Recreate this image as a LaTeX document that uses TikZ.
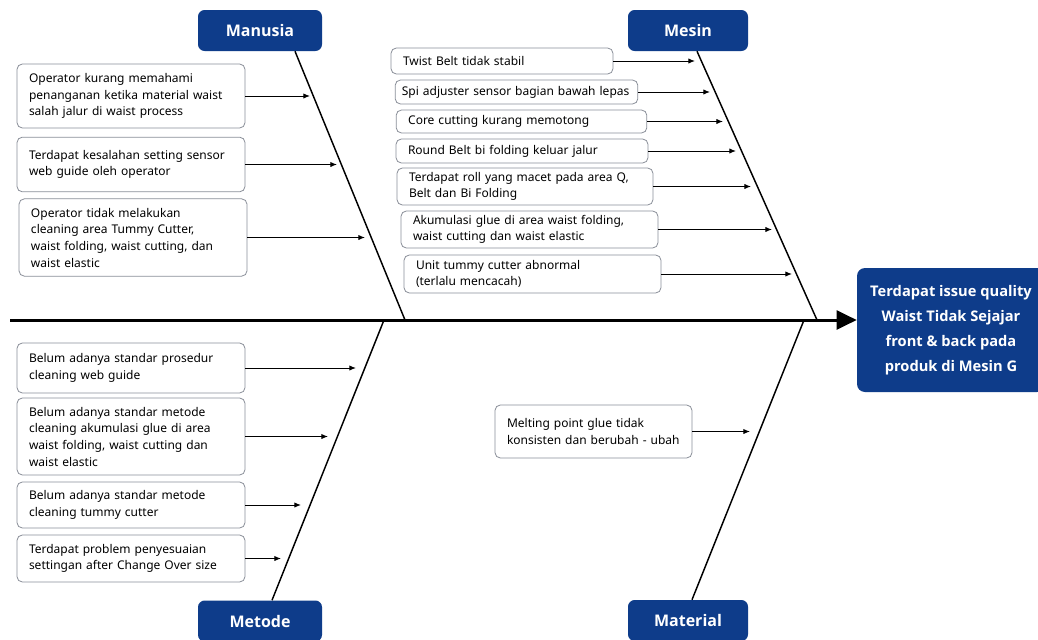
\documentclass[tikz,border=0pt]{standalone}
\usepackage{fontspec}
\setmainfont{Noto Sans}
\newfontfamily\headfont{Open Sans}
\usetikzlibrary{arrows.meta,calc}
\definecolor{fishblue}{HTML}{0E3C8A}
\definecolor{boxline}{HTML}{8A8F99}
\tikzset{
	category/.style={fill=fishblue, text=white, rounded corners=5pt, minimum width=93pt, minimum height=30.75pt, inner sep=0pt, font=\headfont\bfseries\fontsize{12}{14}\selectfont},
	causebox/.style={draw=boxline, line width=0.6pt, rounded corners=4pt, fill=white, align=left, inner xsep=9pt, inner ysep=2pt, text width=#1, font=\fontsize{9}{12.5}\selectfont},
	bone/.style={line width=1.1pt},
	spine/.style={line width=2.25pt, -{Triangle[length=15pt,width=14pt]}},
	cause/.style={line width=0.7pt, -{Latex[length=5pt,width=4pt]}},
}
\begin{document}
\begin{tikzpicture}[x=0.75pt, y=-0.75pt]
		\useasboundingbox[fill=white] (0,0) rectangle (1038,639);
		
		% effect and spine
		\node[category, minimum width=141pt, minimum height=93pt, rounded corners=6pt, align=center, font=\headfont\bfseries\fontsize{11}{18.75}\selectfont] (effect) at (951,330) {Terdapat issue quality\\Waist Tidak Sejajar\\front \& back pada\\produk di Mesin G};
		\coordinate (tail) at (10,320);
		\draw[spine] (tail) -- (tail -| effect.west);
		
		% categories
		\node[category] (manusia) at (260,30.5) {Manusia};
		\node[category, minimum width=90pt] (mesin) at (688,30.5) {Mesin};
		\node[category] (metode) at (260,621) {Metode};
		\node[category, minimum width=90pt] (material) at (688,620.5) {Material};
		
		\coordinate (jmanusia) at (405,320);
		\coordinate (jmesin) at (817,320);
		\coordinate (jmetode) at (384,320);
		\coordinate (jmaterial) at (804,320);
		\draw[bone] ($(manusia.south)+(35,0)$) -- (jmanusia);
		\draw[bone] ($(mesin.south)+(9,0)$) -- (jmesin);
		\draw[bone] ($(metode.north)+(12,0)$) -- (jmetode);
		\draw[bone] ($(material.north)+(4,0)$) -- (jmaterial);
		
		% Manusia
		\node[causebox=153pt, minimum height=48pt] (ma1) at (131,96) {Operator kurang memahami\\penanganan ketika material waist\\salah jalur di waist process};
		\node[causebox=153pt, minimum height=41pt] (ma2) at (131,164.5) {Terdapat kesalahan setting sensor\\web guide oleh operator};
		\node[causebox=153pt, minimum height=58pt] (ma3) at (133,237.5) {Operator tidak melakukan\\cleaning area Tummy Cutter,\\waist folding, waist cutting, dan\\waist elastic};
		\coordinate (ma1t) at (310,96);
		\coordinate (ma2t) at (337,164.5);
		\coordinate (ma3t) at (365,237.5);
		\draw[cause] (ma1) -- (ma1t);
		\draw[cause] (ma2) -- (ma2t);
		\draw[cause] (ma3) -- (ma3t);
		
		% Mesin
		\node[causebox=148.5pt, minimum height=19.5pt] (me1) at (502,61) {Twist Belt tidak stabil};
		\node[causebox=172pt, inner xsep=5pt, minimum height=18pt] (me2) at (516.5,92) {Spi adjuster sensor bagian bawah lepas};
		\node[causebox=170pt, minimum height=17.25pt] (me3) at (521.5,121.5) {Core cutting kurang memotong};
		\node[causebox=171pt, minimum height=18pt] (me4) at (522,151) {Round Belt bi folding keluar jalur};
		\node[causebox=174pt, minimum height=27.75pt, font=\fontsize{9}{11.5}\selectfont] (me5) at (525,186.5) {Terdapat roll yang macet pada area Q,\\Belt dan Bi Folding};
		\node[causebox=174.75pt, minimum height=27.75pt, font=\fontsize{9}{11.5}\selectfont] (me6) at (529.5,229.5) {Akumulasi glue di area waist folding,\\waist cutting dan waist elastic};
		\node[causebox=174.75pt, minimum height=28.5pt, font=\fontsize{9}{11.5}\selectfont] (me7) at (532.5,274) {Unit tummy cutter abnormal\\(terlalu mencacah)};
		\coordinate (me1t) at (695,61);
		\coordinate (me2t) at (710,92);
		\coordinate (me3t) at (723,121.5);
		\coordinate (me4t) at (736,151);
		\coordinate (me5t) at (751,186.5);
		\coordinate (me6t) at (772,229.5);
		\coordinate (me7t) at (792,274);
		\draw[cause] (me1) -- (me1t);
		\draw[cause] (me2) -- (me2t);
		\draw[cause] (me3) -- (me3t);
		\draw[cause] (me4) -- (me4t);
		\draw[cause] (me5) -- (me5t);
		\draw[cause] (me6) -- (me6t);
		\draw[cause] (me7) -- (me7t);
		
		% Metode
		\node[causebox=153pt, minimum height=37.5pt] (mt1) at (131,368) {Belum adanya standar prosedur\\cleaning web guide};
		\node[causebox=153pt, minimum height=57.75pt] (mt2) at (131,436.5) {Belum adanya standar metode\\cleaning akumulasi glue di area\\waist folding, waist cutting dan\\waist elastic};
		\node[causebox=153pt, minimum height=34.5pt] (mt3) at (131,505) {Belum adanya standar metode\\cleaning tummy cutter};
		\node[causebox=153pt, minimum height=35.25pt] (mt4) at (131,558.5) {Terdapat problem penyesuaian\\settingan after Change Over size};
		\coordinate (mt1t) at (356,368);
		\coordinate (mt2t) at (328,436.5);
		\coordinate (mt3t) at (301,505);
		\coordinate (mt4t) at (281,558.5);
		\draw[cause] (mt1) -- (mt1t);
		\draw[cause] (mt2) -- (mt2t);
		\draw[cause] (mt3) -- (mt3t);
		\draw[cause] (mt4) -- (mt4t);
		
		% Material
		\node[causebox=129.75pt, minimum height=39.75pt] (mat1) at (593.5,431.5) {Melting point glue tidak\\konsisten dan berubah - ubah};
		\coordinate (mat1t) at (750,431.5);
		\draw[cause] (mat1) -- (mat1t);
\end{tikzpicture}
\end{document}
